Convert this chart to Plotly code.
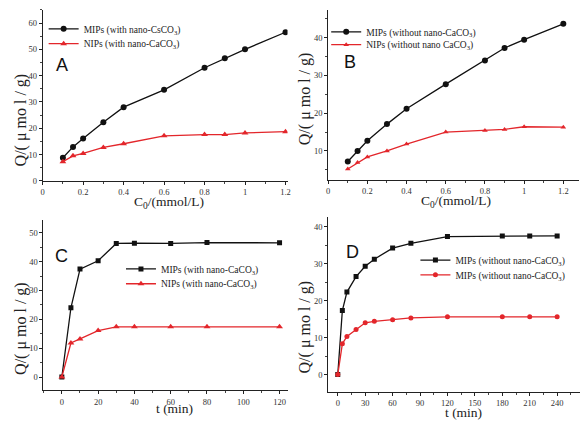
import plotly.graph_objects as go

W, H = 583, 421

# ---------------- data ----------------
c0 = [0.1, 0.15, 0.2, 0.3, 0.4, 0.6, 0.8, 0.9, 1.0, 1.2]
a_mips = [8.8, 12.9, 16.1, 22.3, 28.0, 34.6, 43.0, 46.6, 50.0, 56.5]
a_nips = [7.3, 9.5, 10.4, 12.7, 14.1, 17.1, 17.6, 17.6, 18.2, 18.7]
b_mips = [7.2, 10.0, 12.7, 17.1, 21.2, 27.7, 34.0, 37.3, 39.5, 43.7]
b_nips = [5.2, 6.9, 8.4, 10.0, 11.8, 15.0, 15.4, 15.7, 16.4, 16.3]

t_c = [0, 5, 10, 20, 30, 40, 60, 80, 120]
c_mips = [0, 24.0, 37.4, 40.3, 46.3, 46.4, 46.3, 46.6, 46.5]
c_nips = [0, 11.8, 13.2, 16.1, 17.4, 17.4, 17.4, 17.4, 17.4]

t_d = [0, 5, 10, 20, 30, 40, 60, 80, 120, 180, 210, 240]
d_mips = [0, 17.3, 22.3, 26.5, 29.3, 31.2, 34.2, 35.5, 37.3, 37.5, 37.5, 37.5]
d_nips = [0, 8.3, 10.3, 12.2, 14.0, 14.4, 14.8, 15.3, 15.6, 15.6, 15.6, 15.6]

names_a = ["MIPs (with nano-CsCO<sub>3</sub>)", "NIPs (with nano-CaCO<sub>3</sub>)"]
names_b = ["MIPs (without nano-CaCO<sub>3</sub>)", "NIPs (without nano CaCO<sub>3</sub>)"]
names_c = ["MIPs (with nano-CaCO<sub>3</sub>)", "NIPs (with nano-CaCO<sub>3</sub>)"]
names_d = ["MIPs (without nano-CaCO<sub>3</sub>)", "MIPs (without nano-CaCO<sub>3</sub>)"]

BLACK = "#111111"
RED = "#e3262b"
SERIF = "Liberation Serif"
SANS = "Liberation Sans"

fig = go.Figure()


def add(x, y, name, color, symbol, xa, ya, leg, size=6):
    fig.add_trace(go.Scatter(
        x=x, y=y, name=name, mode="lines+markers",
        line=dict(color=color, width=1.3),
        marker=dict(color=color, symbol=symbol, size=size),
        xaxis=xa, yaxis=ya, legend=leg))


add(c0, a_mips, names_a[0], BLACK, "circle", "x", "y", "legend")
add(c0, a_nips, names_a[1], RED, "triangle-up", "x", "y", "legend2")
add(c0, b_mips, names_b[0], BLACK, "circle", "x2", "y2", "legend3")
add(c0, b_nips, names_b[1], RED, "triangle-up", "x2", "y2", "legend4", size=5)
add(t_c, c_mips, names_c[0], BLACK, "square", "x3", "y3", "legend5", size=5)
add(t_c, c_nips, names_c[1], RED, "triangle-up", "x3", "y3", "legend6")
add(t_d, d_mips, names_d[0], BLACK, "square", "x4", "y4", "legend7", size=5)
add(t_d, d_nips, names_d[1], RED, "circle", "x4", "y4", "legend8", size=5)


def px_x(p):
    return p / W


def px_y(p):
    return 1 - p / H


def axis(domain_px, rng, dtick, minor, anchor, horizontal):
    if horizontal:
        dom = [px_x(domain_px[0]), px_x(domain_px[1])]
    else:
        dom = [px_y(domain_px[1]), px_y(domain_px[0])]
    return dict(domain=dom, range=rng, dtick=dtick, tick0=0, anchor=anchor,
                showgrid=False, zeroline=False, showline=True, linecolor="#222",
                linewidth=1, ticks="outside", ticklen=3, tickcolor="#222",
                minor=dict(ticks="outside", ticklen=2, dtick=minor, tickcolor="#444"),
                tickfont=dict(family=SERIF, size=8.5, color="#333"))


def leg(text_x, row_y):
    # text_x: left edge of legend text; row_y: vertical centre of the entry
    return dict(bgcolor="rgba(0,0,0,0)", font=dict(family=SERIF, size=9.5, color="#222"),
                xanchor="left", yanchor="top", tracegroupgap=0, itemwidth=30,
                x=px_x(text_x - 40), y=px_y(row_y - 10.5))


fig.update_layout(
    width=W, height=H, margin=dict(l=0, r=0, t=0, b=0),
    paper_bgcolor="white", plot_bgcolor="white",
    xaxis=axis([41, 288], [0, 1.21], 0.2, 0.1, "y", True),
    yaxis=axis([10, 183], [0, 65], 10, 5, "x", False),
    xaxis2=axis([329, 582], [0, 1.28], 0.2, 0.1, "y2", True),
    yaxis2=axis([10, 181.7], [2.4, 47.4], 10, 5, "x2", False),
    xaxis3=axis([41.7, 288], [-10.2, 124.4], 20, 10, "y3", True),
    yaxis3=axis([223, 395], [-4.6, 54.3], 10, 5, "x3", False),
    xaxis4=axis([329, 583], [-10.5, 265], 30, 15, "y4", True),
    yaxis4=axis([220, 397], [-4.8, 42.5], 10, 5, "x4", False),
    legend=leg(82, 25), legend2=leg(82, 40),
    legend3=leg(367, 28), legend4=leg(367, 41),
    legend5=leg(160, 268), legend6=leg(160, 283),
    legend7=leg(457, 259), legend8=leg(457, 274),
    showlegend=True,
)

ann = []
# panel letters
for txt, cx, cy in [("A", 61, 66), ("B", 351, 63), ("C", 60, 259), ("D", 354, 255)]:
    ann.append(dict(text=txt, x=px_x(cx), y=px_y(cy), xref="paper", yref="paper",
                    showarrow=False, font=dict(family=SANS, size=18, color="#111"),
                    xanchor="center", yanchor="middle"))
# x titles
for txt, cx, cy in [("C<sub>0</sub>/(mmol/L)", 168, 205), ("C<sub>0</sub>/(mmol/L)", 458, 204),
                    ("t (min)", 174, 413), ("t (min)", 465, 417)]:
    ann.append(dict(text=txt, x=px_x(cx), y=px_y(cy), xref="paper", yref="paper",
                    showarrow=False, font=dict(family=SERIF, size=13.5, color="#222"),
                    xanchor="center", yanchor="middle"))
# y titles
for txt, cx, cy in [("Q/( μ mo l / g)", 19, 121), ("Q/( μ mo l / g)", 305, 100),
                    ("Q/( μ mo l / g)", 19, 332), ("Q/( μ mo l / g)", 306, 331)]:
    ann.append(dict(text=txt, x=px_x(cx), y=px_y(cy), xref="paper", yref="paper",
                    showarrow=False, textangle=-90,
                    font=dict(family=SERIF, size=16, color="#222"),
                    xanchor="center", yanchor="middle"))
fig.update_layout(annotations=ann)

fig.write_html("out.html", config={"displayModeBar": False},
               post_script="document.body.style.margin='0px';document.body.style.overflow='hidden';")
